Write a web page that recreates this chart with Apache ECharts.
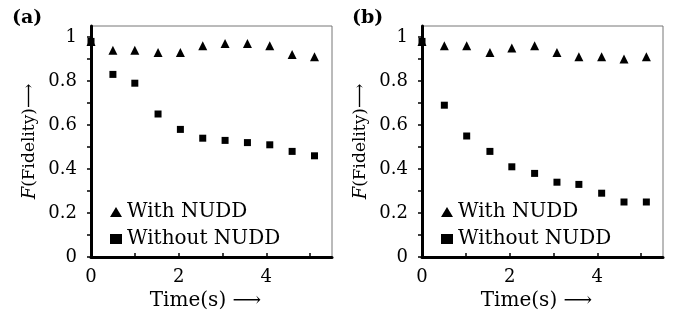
<!DOCTYPE html>
<html>
<head>
<meta charset="utf-8">
<script src="https://cdn.jsdelivr.net/npm/echarts@6/dist/echarts.min.js"></script>
<style>
  html, body { margin: 0; padding: 0; background: #fff; }
  #chart { width: 679px; height: 325px; }
</style>
</head>
<body>
<div id="chart"></div>
<script>
// time axis (s)
const timeA = [0, 0.5, 1.0, 1.53, 2.04, 2.55, 3.06, 3.57, 4.08, 4.59, 5.1];
const timeB = [0, 0.51, 1.02, 1.55, 2.05, 2.57, 3.08, 3.58, 4.1, 4.61, 5.12];

// panel (a)
const withA = [0.98, 0.94, 0.94, 0.93, 0.93, 0.96, 0.97, 0.97, 0.96, 0.92, 0.91];
const withoutA = [0.98, 0.83, 0.79, 0.65, 0.58, 0.54, 0.53, 0.52, 0.51, 0.48, 0.46];

// panel (b)
const withB = [0.98, 0.96, 0.96, 0.93, 0.95, 0.96, 0.93, 0.91, 0.91, 0.90, 0.91];
const withoutB = [0.98, 0.69, 0.55, 0.48, 0.41, 0.38, 0.34, 0.33, 0.29, 0.25, 0.25];

// ticks and labels
const yTicks = [0, 0.1, 0.2, 0.3, 0.4, 0.5, 0.6, 0.7, 0.8, 0.9, 1];
const yLabels = [0, 0.2, 0.4, 0.6, 0.8, 1];
const xTicks = [0, 1, 2, 3, 4, 5];
const xLabels = [0, 2, 4];

const seriesNames = ['With NUDD', 'Without NUDD'];
const panelLabels = ['(a)', '(b)'];

const FONT = 'DejaVu Serif';
const INK = '#000';

const pairs = (xs, ys) => xs.map((x, i) => [x, ys[i]]);

const chart = echarts.init(document.getElementById('chart'));

const grids = [
  { left: 91, top: 26, width: 241, height: 231 },
  { left: 422, top: 26, width: 241, height: 231 }
];

const makeX = (idx) => ({
  type: 'value',
  gridIndex: idx,
  min: 0,
  max: 5.5,
  name: 'Time(s) \u27F6',
  nameLocation: 'middle',
  nameGap: 33,
  nameTextStyle: { fontFamily: FONT, fontSize: 20, color: INK, padding: [0, 12, 0, 0] },
  axisLine: { lineStyle: { color: INK, width: 3 } },
  axisTick: { customValues: xTicks, inside: true, length: 4, lineStyle: { color: INK, width: 1.5 } },
  axisLabel: { customValues: xLabels, margin: 11, fontFamily: FONT, fontSize: 18, color: INK },
  splitLine: { show: false }
});

const makeY = (idx) => ({
  type: 'value',
  gridIndex: idx,
  min: 0,
  max: 1.05,
  name: '{it|F}(Fidelity)\u27F6',
  nameLocation: 'middle',
  nameGap: 52,
  nameRotate: 90,
  nameTextStyle: {
    fontFamily: FONT, fontSize: 17, color: INK,
    rich: { it: { fontFamily: FONT, fontStyle: 'italic', fontSize: 18, color: INK } }
  },
  axisLine: { lineStyle: { color: INK, width: 3 } },
  axisTick: { customValues: yTicks, length: 4, lineStyle: { color: INK, width: 1.5 } },
  axisLabel: { customValues: yLabels, margin: 14, fontFamily: FONT, fontSize: 18, color: INK },
  splitLine: { show: false }
});

const scatter = (name, idx, data, symbol, size) => ({
  type: 'scatter',
  name: name,
  xAxisIndex: idx,
  yAxisIndex: idx,
  data: data,
  symbol: symbol,
  symbolSize: size,
  clip: false,
  itemStyle: { color: INK, opacity: 1 }
});

const option = {
  animation: false,
  backgroundColor: '#fff',
  title: panelLabels.map((t, i) => ({
    text: t,
    left: i === 0 ? 7 : 347,
    top: 4,
    textStyle: { fontFamily: FONT, fontWeight: 'bold', fontSize: 19, color: INK }
  })),
  grid: grids.map(g => Object.assign({ show: true, borderColor: '#777', borderWidth: 1 }, g)),
  legend: [0, 1].map(i => ({
    data: seriesNames,
    orient: 'vertical',
    left: i === 0 ? 105 : 436,
    top: 197,
    itemGap: 7,
    itemWidth: 12,
    itemHeight: 10,
    selectedMode: false,
    textStyle: { fontFamily: FONT, fontSize: 20, color: INK }
  })),
  xAxis: [makeX(0), makeX(1)],
  yAxis: [makeY(0), makeY(1)],
  series: [
    scatter(seriesNames[0], 0, pairs(timeA, withA), 'triangle', 9),
    scatter(seriesNames[1], 0, pairs(timeA, withoutA), 'rect', 7),
    scatter(seriesNames[0], 1, pairs(timeB, withB), 'triangle', 9),
    scatter(seriesNames[1], 1, pairs(timeB, withoutB), 'rect', 7)
  ]
};

chart.setOption(option);
</script>
</body>
</html>
